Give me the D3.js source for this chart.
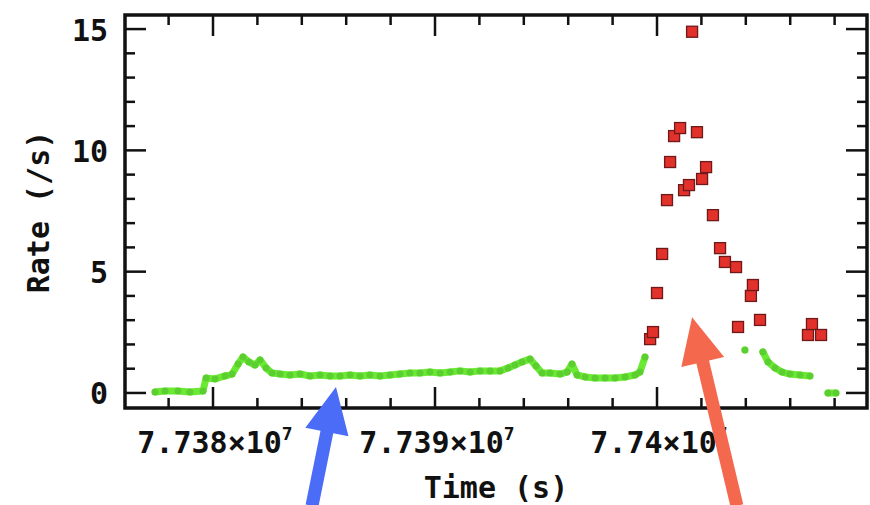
<!DOCTYPE html>
<html>
<head>
<meta charset="utf-8">
<script src="https://cdn.jsdelivr.net/npm/d3@7"></script>
<style>
  body { margin: 0; background: #fff; }
  svg text { font-family: "DejaVu Sans Mono", monospace; font-weight: bold; fill: #111; }
</style>
</head>
<body>
<svg id="chart" width="870" height="505"></svg>
<script>
// Quiescent light curve (green), null = gap in the line
var greenTime = [77377390, 77377840, 77378420, 77378960, 77379550, 77379690, 77380090, 77380540,
  77380860, 77381130, 77381350, 77381620, 77381890, 77382120, 77382390, 77382660, 77383020,
  77383470, 77383920, 77384370, 77384820, 77385270, 77385720, 77386170, 77386620, 77387070,
  77387520, 77387970, 77388420, 77388870, 77389320, 77389770, 77390230, 77390680, 77391130,
  77391580, 77392030, 77392480, 77392930, 77393290, 77393600, 77393920, 77394280, 77394550,
  77394820, 77395180, 77395630, 77395950, 77396170, 77396400, 77396760, 77397210, 77397660,
  77398110, 77398560, 77399010, 77399230, 77399460, null,
  77403960, null,
  77404770, 77405000, 77405320, 77405630, 77405990, 77406440, 77406890, null,
  77407700, 77408060];
var greenRate = [0.04, 0.08, 0.08, 0.04, 0.08, 0.62, 0.58, 0.70,
  0.78, 1.19, 1.48, 1.28, 1.15, 1.36, 1.03, 0.82, 0.78,
  0.74, 0.78, 0.70, 0.74, 0.70, 0.70, 0.74, 0.70, 0.74,
  0.70, 0.74, 0.78, 0.82, 0.82, 0.86, 0.82, 0.86, 0.91,
  0.86, 0.91, 0.91, 0.91, 1.03, 1.15, 1.28, 1.40, 1.11,
  0.82, 0.82, 0.78, 0.86, 1.19, 0.74, 0.66, 0.62, 0.62,
  0.62, 0.66, 0.74, 0.86, 1.48, null,
  1.77, null,
  1.69, 1.28, 1.03, 0.86, 0.78, 0.74, 0.70, null,
  0.0, 0.0];

// Flare points (red)
var redTime = [77399690, 77399820, 77400000, 77400230, 77400450, 77400590, 77400770, 77401040,
  77401220, 77401440, 77401580, 77401800, 77402030, 77402210, 77402520, 77402840, 77403060,
  77403560, 77403650, 77404230, 77404320, 77404640, 77406800, 77406980, 77407390];
var redRate = [2.22, 2.51, 4.12, 5.73, 7.95, 9.52, 10.59, 10.92,
  8.36, 8.57, 14.89, 10.75, 8.82, 9.31, 7.33, 5.97, 5.40,
  5.19, 2.72, 4.00, 4.45, 3.01, 2.39, 2.84, 2.39];

var yTicks = [0, 5, 10, 15];
var xTicks = [77380000, 77390000, 77400000];
var xTickLabels = ["7.738×10", "7.739×10", "7.74×10"];
var xTickExp = "7";

// Annotation arrows, given in data units: [tailTime, tailRate, tipTime, tipRate]
var arrows = [
  {from: [77384460, -4.65], to: [77385540, 0.25], color: "#4a6cf6"},
  {from: [77403600, -4.65], to: [77401580, 3.12], color: "#f4694e"}
];

var svg = d3.select("#chart");
var box = {left: 125, right: 867, top: 15, bottom: 408};

var x = d3.scaleLinear().domain([77376036, 77409459]).range([box.left, box.right]);
var y = d3.scaleLinear().domain([-0.62, 15.58]).range([box.bottom, box.top]);

// minor ticks every 2000 s and every 1 count/s
var xMinor = d3.range(77378000, 77409459, 2000);
var yMinor = d3.range(0, 16, 1);

var ticks = svg.append("g").attr("stroke", "#111").attr("stroke-width", 2.5);
function tickLen(isMajor) { return isMajor ? 21 : 10; }

xMinor.forEach(function(t) {
  var major = xTicks.some(function(m) { return Math.abs(m - t) < 1; });
  var L = tickLen(major);
  ticks.append("line").attr("x1", x(t)).attr("x2", x(t))
    .attr("y1", box.bottom).attr("y2", box.bottom - L);
  ticks.append("line").attr("x1", x(t)).attr("x2", x(t))
    .attr("y1", box.top).attr("y2", box.top + L);
});
yMinor.forEach(function(v) {
  var major = yTicks.indexOf(v) >= 0;
  var L = tickLen(major);
  ticks.append("line").attr("y1", y(v)).attr("y2", y(v))
    .attr("x1", box.left).attr("x2", box.left + L);
  ticks.append("line").attr("y1", y(v)).attr("y2", y(v))
    .attr("x1", box.right).attr("x2", box.right - L);
});

// green light curve
var line = d3.line()
  .defined(function(d) { return d[1] !== null; })
  .x(function(d) { return x(d[0]); })
  .y(function(d) { return y(d[1]); });
var greenData = greenTime.map(function(t, i) { return [t, greenRate[i]]; });

svg.append("path").datum(greenData)
  .attr("fill", "none")
  .attr("stroke", "#6aea32")
  .attr("stroke-width", 7)
  .attr("stroke-linejoin", "round")
  .attr("stroke-linecap", "round")
  .attr("d", line);

svg.append("g").selectAll("circle")
  .data(greenData.filter(function(d) { return d[1] !== null; }))
  .enter().append("circle")
  .attr("cx", function(d) { return x(d[0]); })
  .attr("cy", function(d) { return y(d[1]); })
  .attr("r", 3.5)
  .attr("fill", "#5ccf30");

// red flare points
var s = 11;
svg.append("g").selectAll("rect")
  .data(redTime.map(function(t, i) { return [t, redRate[i]]; }))
  .enter().append("rect")
  .attr("x", function(d) { return x(d[0]) - s / 2; })
  .attr("y", function(d) { return y(d[1]) - s / 2; })
  .attr("width", s).attr("height", s)
  .attr("fill", "#e2302a")
  .attr("stroke", "#6e1a1a")
  .attr("stroke-width", 1.3);

// frame
svg.append("rect")
  .attr("x", box.left).attr("y", box.top)
  .attr("width", box.right - box.left).attr("height", box.bottom - box.top)
  .attr("fill", "none").attr("stroke", "#111").attr("stroke-width", 3.5);

// tick labels
svg.append("g").selectAll("text").data(yTicks).enter().append("text")
  .attr("x", 108).attr("y", function(d) { return y(d) + 1; })
  .attr("text-anchor", "end").attr("dominant-baseline", "central")
  .style("font-size", "30px")
  .text(function(d) { return d; });

var xl = svg.append("g").selectAll("text").data(xTicks).enter().append("text")
  .attr("x", function(d) { return x(d) + 2; }).attr("y", 453)
  .attr("text-anchor", "middle")
  .style("font-size", "30px");
xl.append("tspan").text(function(d, i) { return xTickLabels[i]; });
xl.append("tspan").attr("dy", -13).style("font-size", "18px").text(xTickExp);

// axis titles
svg.append("text")
  .attr("x", (box.left + box.right) / 2).attr("y", 498)
  .attr("text-anchor", "middle").style("font-size", "30px")
  .text("Time (s)");
svg.append("text")
  .attr("transform", "translate(38,212) rotate(-90)")
  .attr("text-anchor", "middle").attr("dominant-baseline", "central")
  .style("font-size", "30px")
  .text("Rate (/s)");

// annotation arrows
arrows.forEach(function(a) {
  var x0 = x(a.from[0]), y0 = y(a.from[1]), x1 = x(a.to[0]), y1 = y(a.to[1]);
  var dx = x1 - x0, dy = y1 - y0, len = Math.sqrt(dx * dx + dy * dy);
  var ux = dx / len, uy = dy / len, px = -uy, py = ux;
  var hl = 46, hw = 22, sw = 6.5;
  var bx = x1 - ux * hl, by = y1 - uy * hl;
  var pts = [
    [x0 + px * sw, y0 + py * sw], [bx + px * sw, by + py * sw], [bx + px * hw, by + py * hw],
    [x1, y1],
    [bx - px * hw, by - py * hw], [bx - px * sw, by - py * sw], [x0 - px * sw, y0 - py * sw]
  ];
  svg.append("polygon")
    .attr("points", pts.map(function(p) { return p.join(","); }).join(" "))
    .attr("fill", a.color);
});
</script>
</body>
</html>
